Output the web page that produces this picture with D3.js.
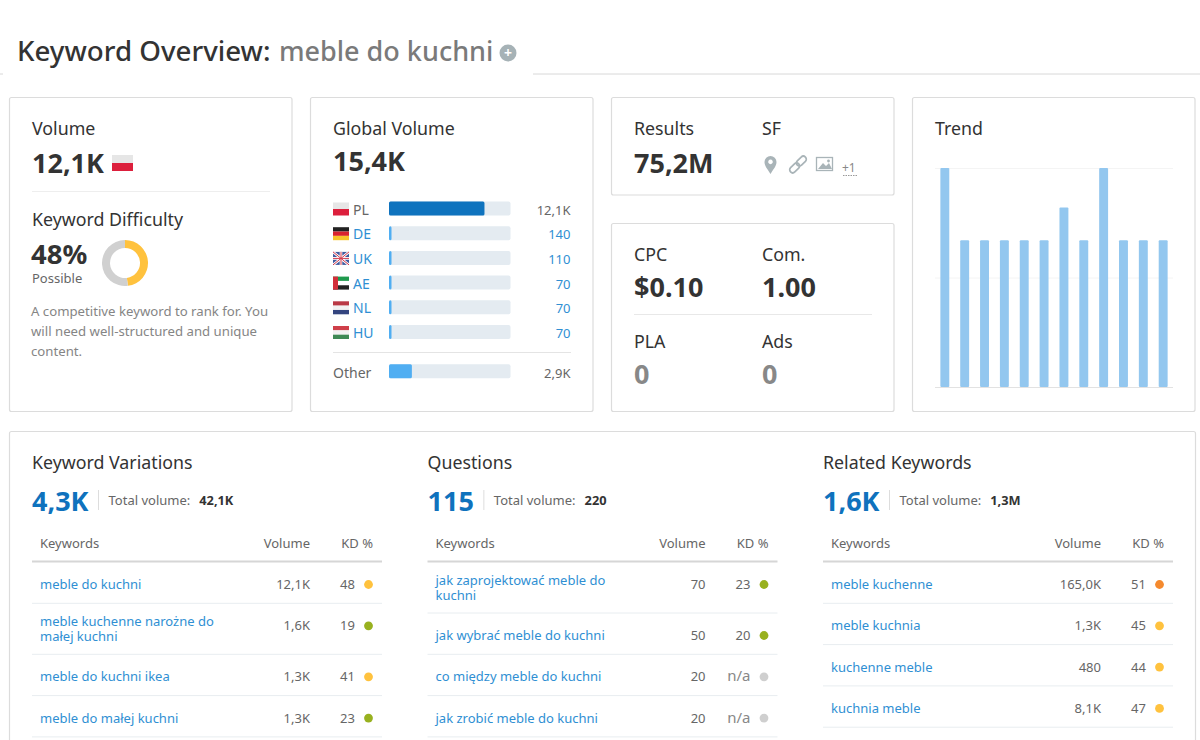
<!DOCTYPE html>
<html>
<head>
<meta charset="utf-8">
<script src="https://cdnjs.cloudflare.com/ajax/libs/d3/7.8.5/d3.min.js"></script>
<style>
  html, body { margin: 0; padding: 0; background: #fff; overflow: hidden; }
  svg { display: block; }
  text { font-family: "Noto Sans", "Open Sans", sans-serif; }
</style>
</head>
<body>
<svg id="canvas" width="1200" height="740"></svg>
<script>
// global volume
var countries = ["PL", "DE", "UK", "AE", "NL", "HU"];
var countryValues = [12100, 140, 110, 70, 70, 70];
var countryLabels = ["12,1K", "140", "110", "70", "70", "70"];
var otherValue = 2900;
var otherLabel = "2,9K";
var globalTotal = 15400;

// trend, relative to the highest month
var trendMonths = ["m1", "m2", "m3", "m4", "m5", "m6", "m7", "m8", "m9", "m10", "m11", "m12"];
var trendValues = [100, 67, 67, 67, 67, 67, 82, 67, 100, 67, 67, 67];
var trendGrid = [0, 50, 100];

// difficulty
var kdValue = 48;

// keyword tables
var variationKeywords = [["meble do kuchni"], ["meble kuchenne narożne do", "małej kuchni"], ["meble do kuchni ikea"], ["meble do małej kuchni"]];
var variationVolumes = ["12,1K", "1,6K", "1,3K", "1,3K"];
var variationKd = ["48", "19", "41", "23"];

var questionKeywords = [["jak zaprojektować meble do", "kuchni"], ["jak wybrać meble do kuchni"], ["co między meble do kuchni"], ["jak zrobić meble do kuchni"]];
var questionVolumes = ["70", "50", "20", "20"];
var questionKd = ["23", "20", "n/a", "n/a"];

var relatedKeywords = [["meble kuchenne"], ["meble kuchnia"], ["kuchenne meble"], ["kuchnia meble"]];
var relatedVolumes = ["165,0K", "1,3K", "480", "8,1K"];
var relatedKd = ["51", "45", "44", "47"];

var canvas = d3.select("#canvas");
var dark = "#333", grey = "#666", blue = "#0f72bd", lightBlue = "#2f8fd3";
var headSize = 17.8, bigSize = 27;

function label(g, x, y, str, size, color, weight, anchor) {
  return g.append("text")
    .attr("x", x).attr("y", y)
    .attr("font-size", size)
    .attr("fill", color)
    .attr("font-weight", weight || 400)
    .attr("text-anchor", anchor || "start")
    .text(str);
}

function hline(x1, x2, y, color, w) {
  canvas.append("line")
    .attr("x1", x1).attr("x2", x2).attr("y1", y).attr("y2", y)
    .attr("stroke", color).attr("stroke-width", w || 1);
}

function card(x, y, w, h) {
  canvas.append("rect")
    .attr("x", x + 0.5).attr("y", y + 0.5).attr("width", w).attr("height", h)
    .attr("rx", 2)
    .attr("fill", "#fff").attr("stroke", "#dcdcdc").attr("stroke-width", 1.2);
}

// flags are just stripes
function flag(x, y, w, h, colors) {
  var band = d3.scaleBand().domain(d3.range(colors.length)).range([y, y + h]);
  canvas.append("g").selectAll("rect")
    .data(colors)
    .enter()
    .append("rect")
    .attr("x", x).attr("y", function(d, i) { return band(i); })
    .attr("width", w).attr("height", band.bandwidth())
    .attr("fill", function(d) { return d; });
}

// title
hline(0, 3, 74, "#d8d8d8");
hline(533, 1200, 74, "#d8d8d8");
label(canvas, 17, 61, "Keyword Overview:", 27.7, dark, 500);
label(canvas, 279, 61, "meble do kuchni", 27, "#7a7a7a", 500);
canvas.append("circle").attr("cx", 508).attr("cy", 53).attr("r", 8.5).attr("fill", "#a6b2b6");
label(canvas, 508, 58, "+", 14, "#fff", 700, "middle");

// cards
card(9, 97, 282.5, 314);
card(310, 97, 282.5, 314);
card(611, 97, 282.5, 97.5);
card(611, 223, 282.5, 188);
card(912, 97, 282.5, 314);
card(9, 431, 1186, 330);

// volume card
label(canvas, 32, 134.5, "Volume", headSize, dark);
label(canvas, 32, 173, "12,1K", bigSize, dark, 700);
flag(112, 155, 21, 16, ["#e6e6e6", "#dc1f3c"]);
hline(32, 270, 191.5, "#eeeeee");
label(canvas, 32, 225.5, "Keyword Difficulty", headSize, dark);
label(canvas, 31, 264, "48%", 27.5, dark, 700);
label(canvas, 32, 283, "Possible", 13, grey);

var pie = d3.pie().sort(null);
var arc = d3.arc().innerRadius(15).outerRadius(23);
canvas.append("g")
  .attr("transform", "translate(125,263)")
  .selectAll("path")
  .data(pie([kdValue, 100 - kdValue]))
  .enter()
  .append("path")
  .attr("d", arc)
  .attr("fill", function(d, i) { return i == 0 ? "#ffc23e" : "#d0d0d0"; });

label(canvas, 31, 316, "A competitive keyword to rank for. You", 13.2, "#858585");
label(canvas, 31, 336, "will need well-structured and unique", 13.2, "#858585");
label(canvas, 31, 356, "content.", 13.2, "#858585");

// global volume card
label(canvas, 333, 134.5, "Global Volume", headSize, dark);
label(canvas, 333, 171, "15,4K", bigSize, dark, 700);

var barX = d3.scaleLinear().domain([0, globalTotal]).range([0, 121.5]);
var rowY = d3.scalePoint().domain(countries).range([208.5, 332]);
var flagColors = {
  PL: ["#e6e6e6", "#dc1f3c"],
  DE: ["#222222", "#d9232e", "#f7c52a"],
  UK: ["#3f5a9e"],
  AE: ["#1f9a4d", "#ffffff", "#222222"],
  NL: ["#ba3a46", "#f2f2f2", "#34457f"],
  HU: ["#cf3f4a", "#f2f2f2", "#3f8a55"]
};

countries.forEach(function(c, i) {
  var y = rowY(c);
  flag(333, y - 6, 16, 13, flagColors[c]);
  if (c == "UK") {
    var jack = "M333 " + (y - 6) + "L349 " + (y + 7) + "M349 " + (y - 6) + "L333 " + (y + 7) + "M341 " + (y - 6) + "V" + (y + 7) + "M333 " + (y + 0.5) + "H349";
    canvas.append("path").attr("d", jack).attr("stroke", "#fff").attr("stroke-width", 2.6);
    canvas.append("path").attr("d", jack).attr("stroke", "#d2374a").attr("stroke-width", 1);
  }
  if (c == "AE") {
    canvas.append("rect").attr("x", 333).attr("y", y - 6).attr("width", 5).attr("height", 13).attr("fill", "#d22f3a");
  }
  var color = i == 0 ? grey : lightBlue;
  label(canvas, 353, y + 6, c, 14, color);
  canvas.append("rect").attr("x", 389).attr("y", y - 7).attr("width", 121.5).attr("height", 14).attr("rx", 2).attr("fill", "#e4ebf1");
  canvas.append("rect").attr("x", 389).attr("y", y - 7)
    .attr("width", Math.max(2.5, barX(countryValues[i])))
    .attr("height", 14).attr("rx", 1.5)
    .attr("fill", i == 0 ? "#0f73be" : "#50aef2");
  label(canvas, 570.5, y + 6, countryLabels[i], 13, color, 400, "end");
});

hline(333, 571, 352.5, "#e4e4e4");
label(canvas, 333, 377.5, "Other", 14, grey);
canvas.append("rect").attr("x", 389).attr("y", 364.3).attr("width", 121.5).attr("height", 14).attr("rx", 2).attr("fill", "#e4ebf1");
canvas.append("rect").attr("x", 389).attr("y", 364.3).attr("width", barX(otherValue)).attr("height", 14).attr("rx", 1.5).attr("fill", "#50aef2");
label(canvas, 570.5, 377.5, otherLabel, 13, grey, 400, "end");

// results / sf
label(canvas, 634, 134.5, "Results", headSize, dark);
label(canvas, 634, 173, "75,2M", bigSize, dark, 700);
label(canvas, 762, 134.5, "SF", headSize, dark);

var iconColor = "#a9b4b8";
canvas.append("path")
  .attr("transform", "translate(770.5,165)")
  .attr("fill-rule", "evenodd")
  .attr("d", "M0 9C-3 4 -6 1 -6 -3A6 6 0 0 1 6 -3C6 1 3 4 0 9ZM0 -5.4A2.3 2.3 0 1 0 0.01 -5.4Z")
  .attr("fill", iconColor);
canvas.append("g")
  .attr("transform", "translate(798,164.5) rotate(-45)")
  .selectAll("rect")
  .data([-10.5, -1])
  .enter()
  .append("rect")
  .attr("x", function(d) { return d; }).attr("y", -3)
  .attr("width", 11.5).attr("height", 6).attr("rx", 3)
  .attr("fill", "none").attr("stroke", iconColor).attr("stroke-width", 1.7);
canvas.append("rect").attr("x", 816.5).attr("y", 157.5).attr("width", 16).attr("height", 13).attr("fill", "#fff").attr("stroke", iconColor).attr("stroke-width", 1.3);
canvas.append("path").attr("d", "M818 169L823 163L826 166L829 163L832 169Z").attr("fill", iconColor);
canvas.append("circle").attr("cx", 828.5).attr("cy", 161).attr("r", 1.4).attr("fill", iconColor);
label(canvas, 842, 172, "+1", 12, "#888");
canvas.append("line").attr("x1", 843).attr("x2", 858).attr("y1", 175.5).attr("y2", 175.5)
  .attr("stroke", "#999").attr("stroke-dasharray", "1.5 1");

// cpc card
label(canvas, 634, 260.5, "CPC", headSize, dark);
label(canvas, 634, 297, "$0.10", bigSize, dark, 700);
label(canvas, 762, 260.5, "Com.", headSize, dark);
label(canvas, 762, 297, "1.00", bigSize, dark, 700);
hline(634, 872, 314.5, "#e8e8e8");
label(canvas, 634, 347.5, "PLA", headSize, dark);
label(canvas, 634, 384, "0", bigSize, "#888", 700);
label(canvas, 762, 347.5, "Ads", headSize, dark);
label(canvas, 762, 384, "0", bigSize, "#888", 700);

// trend
label(canvas, 935, 134.5, "Trend", headSize, dark);
var trendX = d3.scaleBand().domain(trendMonths).range([935, 1173]).paddingInner(0.55).paddingOuter(0.27);
var trendY = d3.scaleLinear().domain([0, 100]).range([387, 168]);

canvas.append("g").selectAll("line")
  .data(trendGrid)
  .enter()
  .append("line")
  .attr("x1", 935).attr("x2", 1173)
  .attr("y1", function(d) { return trendY(d) + 0.5; })
  .attr("y2", function(d) { return trendY(d) + 0.5; })
  .attr("stroke", function(d) { return d == 0 ? "#e2e2e2" : "#f4f4f4"; });

canvas.append("g").selectAll("rect")
  .data(trendValues)
  .enter()
  .append("rect")
  .attr("x", function(d, i) { return trendX(trendMonths[i]); })
  .attr("y", function(d) { return trendY(d); })
  .attr("width", trendX.bandwidth())
  .attr("height", function(d) { return trendY(0) - trendY(d); })
  .attr("rx", 1)
  .attr("fill", "#93c7ef");

// bottom tables
function kdColor(kd) {
  if (kd == "n/a") return "#cfcfcf";
  var n = +kd;
  if (n < 30) return "#98b11f";
  if (n < 50) return "#ffc23e";
  return "#f58a2e";
}

function table(x0, title, count, total, keywords, volumes, kds) {
  label(canvas, x0, 468.5, title, headSize, dark);
  // the divider and total follow the width of the big number
  var countW = label(canvas, x0, 511, count, bigSize, blue, 700).node().getComputedTextLength();
  var sep = x0 + countW + 10;
  canvas.append("line").attr("x1", sep).attr("x2", sep).attr("y1", 490).attr("y2", 510).attr("stroke", "#dddddd");
  var totalW = label(canvas, sep + 10, 505, "Total volume:", 13, grey).node().getComputedTextLength();
  label(canvas, sep + 10 + totalW + 9, 505, total, 12.8, dark, 700);

  label(canvas, x0 + 8, 548, "Keywords", 13, grey);
  label(canvas, x0 + 278, 548, "Volume", 13, grey, 400, "end");
  label(canvas, x0 + 341, 548, "KD %", 13, grey, 400, "end");
  hline(x0, x0 + 350, 561.5, "#d6d6d6", 2);

  var y = 562;
  keywords.forEach(function(lines, i) {
    var h = lines.length > 1 ? 51 : 41.3;
    var mid = y + 22.5;
    var first = lines.length > 1 ? y + 23 : mid + 4.5;
    var kw = canvas.append("text")
      .attr("font-size", 13)
      .attr("fill", lightBlue);
    lines.forEach(function(s, j) {
      kw.append("tspan").attr("x", x0 + 8).attr("y", first + j * 15).text(s);
    });
    label(canvas, x0 + 278, mid + 4.5, volumes[i], 13, grey, 400, "end");
    if (kds[i] == "n/a") {
      label(canvas, x0 + 323, mid + 4.5, kds[i], 15, "#888", 400, "end");
    } else {
      label(canvas, x0 + 308, mid + 4.5, kds[i], 13, grey);
    }
    canvas.append("circle").attr("cx", x0 + 336.5).attr("cy", mid).attr("r", 4.4).attr("fill", kdColor(kds[i]));
    y += h;
    hline(x0, x0 + 350, y, "#e8edf0");
  });
}

table(32, "Keyword Variations", "4,3K", "42,1K", variationKeywords, variationVolumes, variationKd);
table(427.5, "Questions", "115", "220", questionKeywords, questionVolumes, questionKd);
table(823, "Related Keywords", "1,6K", "1,3M", relatedKeywords, relatedVolumes, relatedKd);
</script>
</body>
</html>
